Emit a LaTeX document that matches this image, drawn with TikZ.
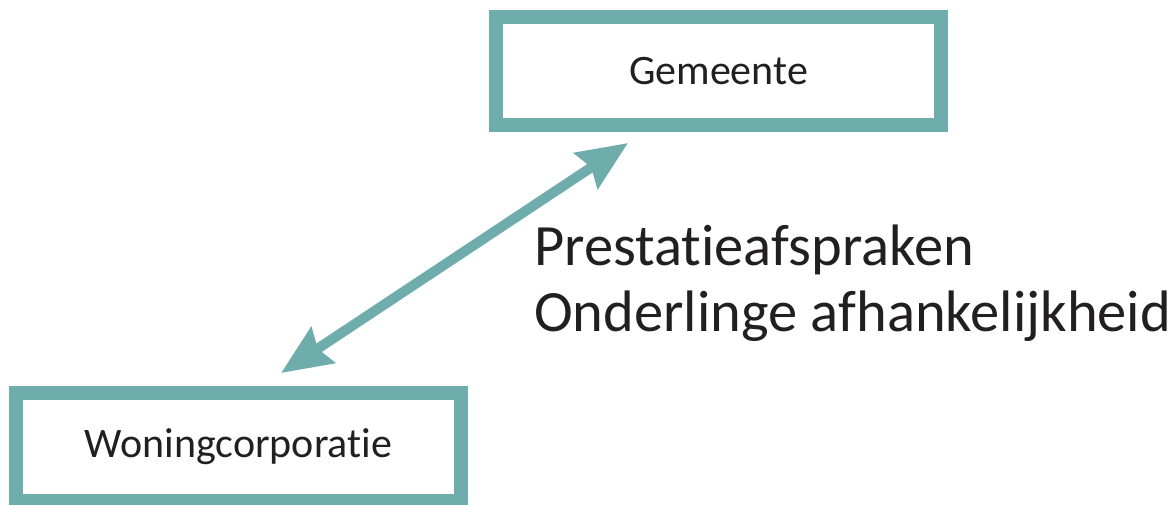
\documentclass[tikz,border=0pt]{standalone}
\usepackage{fontspec}
\setmainfont[RawFeature={-liga;-dlig;-calt;-clig}]{Carlito}
\usetikzlibrary{arrows.meta}
\definecolor{teal1}{RGB}{111,173,172}
\definecolor{ink}{RGB}{35,31,32}
\tikzset{
  box/.style={draw=teal1, line width=14pt, fill=white, minimum width=445pt, minimum height=108pt, inner sep=0pt, text=ink, font=\fontsize{42}{50}\selectfont},
  link/.style={draw=teal1, line width=10pt, {Stealth[length=50pt,width=42pt,inset=6pt]}-{Stealth[length=50pt,width=42pt,inset=6pt]}},
  lbl/.style={text=ink, font=\fontsize{58.5}{66}\selectfont, align=left, inner sep=0pt, anchor=north west}
}
\begin{document}
\begin{tikzpicture}[x=1pt,y=-1pt]
\useasboundingbox (0,0) rectangle (1173,504);
\node[box] (g) at (718.5,71) {Gemeente};
\node[box] (w) at (238.5,447) {Woningcorporatie};
\coordinate (a1) at (281,373);
\coordinate (a2) at (628,143);
\draw[link] (a1) -- (a2);
\node[lbl] (t) at (534,225) {Prestatieafspraken\\Onderlinge afhankelijkheid};
\end{tikzpicture}
\end{document}
